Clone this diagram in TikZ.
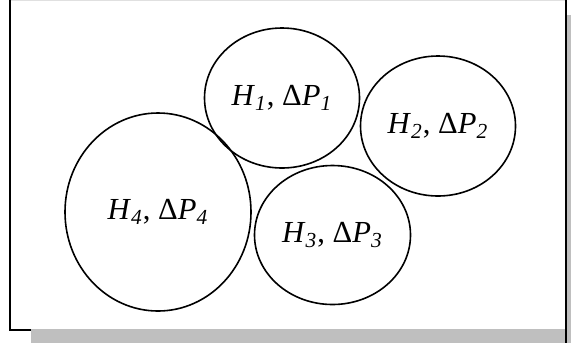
\documentclass[tikz,border=0pt]{standalone}
\usepackage{fontspec}
\setmainfont{Liberation Serif}
\usetikzlibrary{shapes.geometric}

\newcommand{\hdp}[1]{\textit{H}\textsubscript{\textit{#1}}, Δ\textit{P}\textsubscript{\textit{#1}}}

\begin{document}
\begin{tikzpicture}[
      x=0.5pt, y=-0.5pt,
      zone/.style={ellipse, draw, line width=0.8pt, inner sep=0pt,
      outer sep=0pt, font=\fontsize{15.3}{18}\selectfont},
      edge/.style={draw, line width=1pt}
    ]
    \useasboundingbox (0,0) rectangle (571,349);

    % Frame and shadow
    \fill [black!25] (31,15) rectangle (590,343);
    \fill [white] (10,0) rectangle (566,329);
    \draw [black!12, line width=0.6pt] (10,0.6) -- (566,0.6);
    \path [edge] (10,0) -- (10,330) -- (31,330);
    \path [edge] (566,0) -- (566,343);

    % Nodes
    \node [zone, minimum width=77.5pt, minimum height=70pt] (h1) at (282,98) {\hdp{1}};
    \node [zone, minimum width=77.5pt, minimum height=70pt] (h2) at (438,126) {\hdp{2}};
    \node [zone, minimum width=78pt, minimum height=69.5pt] (h3) at (332.5,235) {\hdp{3}};
    \node [zone, minimum width=93pt, minimum height=99pt] (h4) at (158,212) {\hdp{4}};
  \end{tikzpicture}
\end{document}
